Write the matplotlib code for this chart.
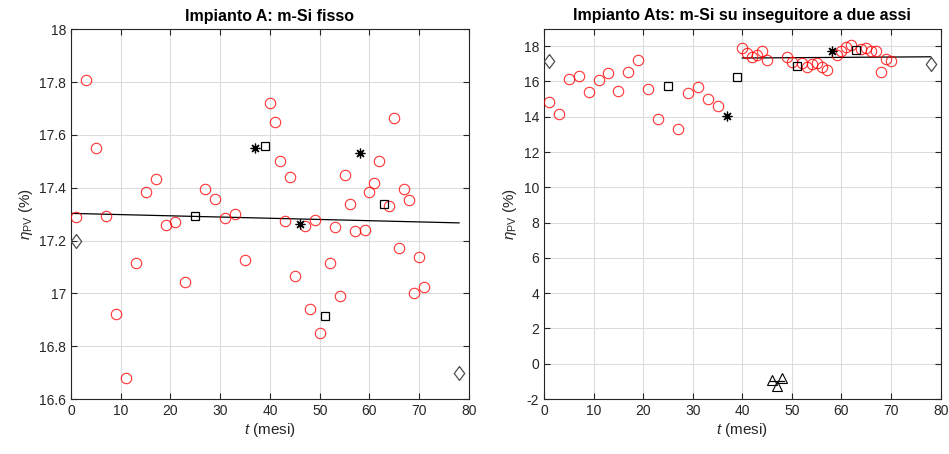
import numpy as np
import matplotlib
matplotlib.use('Agg')
import matplotlib.pyplot as plt

plt.rcParams['font.family'] = ['Liberation Sans', 'DejaVu Sans']
plt.rcParams['mathtext.fontset'] = 'custom'
plt.rcParams['mathtext.rm'] = 'Liberation Sans'
plt.rcParams['mathtext.it'] = 'Liberation Sans:italic'
plt.rcParams['mathtext.bf'] = 'Liberation Sans:bold'
plt.rcParams['axes.unicode_minus'] = False

# ---- Impianto A (m-Si fisso) ----
a_circ_t = [1, 3, 5, 7, 9, 11, 13, 15, 17, 19, 21, 23, 27, 29, 31, 33, 35,
            40, 41, 42, 43, 44, 45, 47, 48, 49, 50, 52, 53, 54, 55, 56, 57,
            59, 60, 61, 62, 64, 65, 66, 67, 68, 69, 70, 71]
a_circ_v = [17.29, 17.81, 17.55, 17.293, 16.923, 16.68, 17.116, 17.385, 17.434,
            17.26, 17.27, 17.045, 17.395, 17.357, 17.286, 17.30, 17.127,
            17.72, 17.65, 17.50, 17.273, 17.44, 17.066, 17.257, 16.94, 17.278,
            16.85, 17.115, 17.252, 16.99, 17.448, 17.34, 17.236,
            17.24, 17.385, 17.418, 17.50, 17.33, 17.665, 17.172, 17.395,
            17.355, 17.00, 17.138, 17.025]
a_star_t = [37, 46, 58]
a_star_v = [17.549, 17.262, 17.533]
a_sq_t = [25, 39, 51, 63]
a_sq_v = [17.293, 17.56, 16.915, 17.34]
a_dia_t = [1, 78]
a_dia_v = [17.2, 16.70]
a_fit_t = [0, 78]
a_fit_v = [17.303, 17.267]

# ---- Impianto Ats (m-Si su inseguitore a due assi) ----
b_circ_t = [1, 3, 5, 7, 9, 11, 13, 15, 17, 19, 21, 23, 27, 29, 31, 33, 35,
            40, 41, 42, 43, 44, 45, 49, 50, 52, 53, 54, 55, 56, 57,
            59, 60, 61, 62, 64, 65, 66, 67, 68, 69, 70]
b_circ_v = [14.83, 14.13, 16.15, 16.3, 15.43, 16.07, 16.5, 15.45, 16.56, 17.2,
            15.6, 13.86, 13.33, 15.34, 15.71, 15.03, 14.6,
            17.89, 17.6, 17.39, 17.52, 17.75, 17.2, 17.41, 17.09, 17.07, 16.83,
            17.01, 17.07, 16.81, 16.64,
            17.49, 17.75, 17.98, 18.09, 17.83, 17.9, 17.7, 17.7, 16.53, 17.26, 17.18]
b_star_t = [37, 58]
b_star_v = [14.07, 17.7]
b_sq_t = [25, 39, 51, 63]
b_sq_v = [15.73, 16.28, 16.9, 17.77]
b_dia_t = [1, 78]
b_dia_v = [17.17, 17.0]
b_tri_t = [46, 47, 48]
b_tri_v = [-0.91, -1.25, -0.83]
b_fit_t = [40, 78]
b_fit_v = [17.33, 17.40]
b_trifit_t = [45.5, 48.5]
b_trifit_v = [-1.0, -1.0]

axcol = (0.15, 0.15, 0.15)
asterisk = (8, 2, 0)
# matlab-like diamond, a bit taller than wide
diamond = [(0, 1), (0.75, 0), (0, -1), (-0.75, 0), (0, 1)]

fig = plt.figure(figsize=(9.49, 4.54), dpi=100)
ax1 = fig.add_axes([0.0748, 0.1211, 0.4194, 0.8143])
ax2 = fig.add_axes([0.5732, 0.1211, 0.418, 0.8160])


def style(ax):
    ax.grid(True, color='#dcdcdc', linewidth=0.8)
    ax.set_axisbelow(True)
    ax.tick_params(direction='in', top=True, right=True, labelsize=10,
                   colors=axcol, length=4, width=0.8)
    for s in ax.spines.values():
        s.set_color(axcol)
        s.set_linewidth(0.8)
    ax.set_xlim(0, 80)
    ax.set_xticks(np.arange(0, 81, 10))
    ax.set_xlabel(r'$t$ (mesi)', fontsize=11, color=axcol, labelpad=2)
    ax.set_ylabel(r'$\eta_{\rm PV}$ (%)', fontsize=11, color=axcol, labelpad=3)


def draw(ax, ct, cv, st, sv, qt, qv, dt, dv, ft, fv):
    ax.plot(ft, fv, '-', color='k', lw=0.9, zorder=2)
    ax.plot(ct, cv, 'o', mfc='none', mec='red', ms=7.5, mew=0.8, alpha=0.8, zorder=3)
    ax.plot(st, sv, marker=asterisk, ls='none', color='k', ms=7, mew=0.9, zorder=3)
    ax.plot(qt, qv, 's', mfc='none', mec='k', ms=5.5, mew=0.9, zorder=3)
    ax.plot(dt, dv, marker=diamond, ls='none', mfc='none', mec='0.3', ms=10,
            mew=0.9, zorder=3)


draw(ax1, a_circ_t, a_circ_v, a_star_t, a_star_v, a_sq_t, a_sq_v,
     a_dia_t, a_dia_v, a_fit_t, a_fit_v)
style(ax1)
ax1.set_ylim(16.6, 18)
yt = np.round(np.arange(16.6, 18.01, 0.2), 1)
ax1.set_yticks(yt)
ax1.set_yticklabels(['%g' % v for v in yt])
ax1.set_title('Impianto A: m-Si fisso', fontsize=11.5, fontweight='bold', pad=6)

draw(ax2, b_circ_t, b_circ_v, b_star_t, b_star_v, b_sq_t, b_sq_v,
     b_dia_t, b_dia_v, b_fit_t, b_fit_v)
ax2.plot(b_trifit_t, b_trifit_v, '-', color='k', lw=0.9, zorder=2)
ax2.plot(b_tri_t, b_tri_v, '^', mfc='none', mec='k', ms=7, mew=0.8, zorder=3)
style(ax2)
ax2.set_ylim(-2, 19)
ax2.set_yticks(np.arange(-2, 19, 2))
ax2.set_title('Impianto Ats: m-Si su inseguitore a due assi', fontsize=11.5,
              fontweight='bold', pad=6)

fig.savefig('out.png', dpi=100)
